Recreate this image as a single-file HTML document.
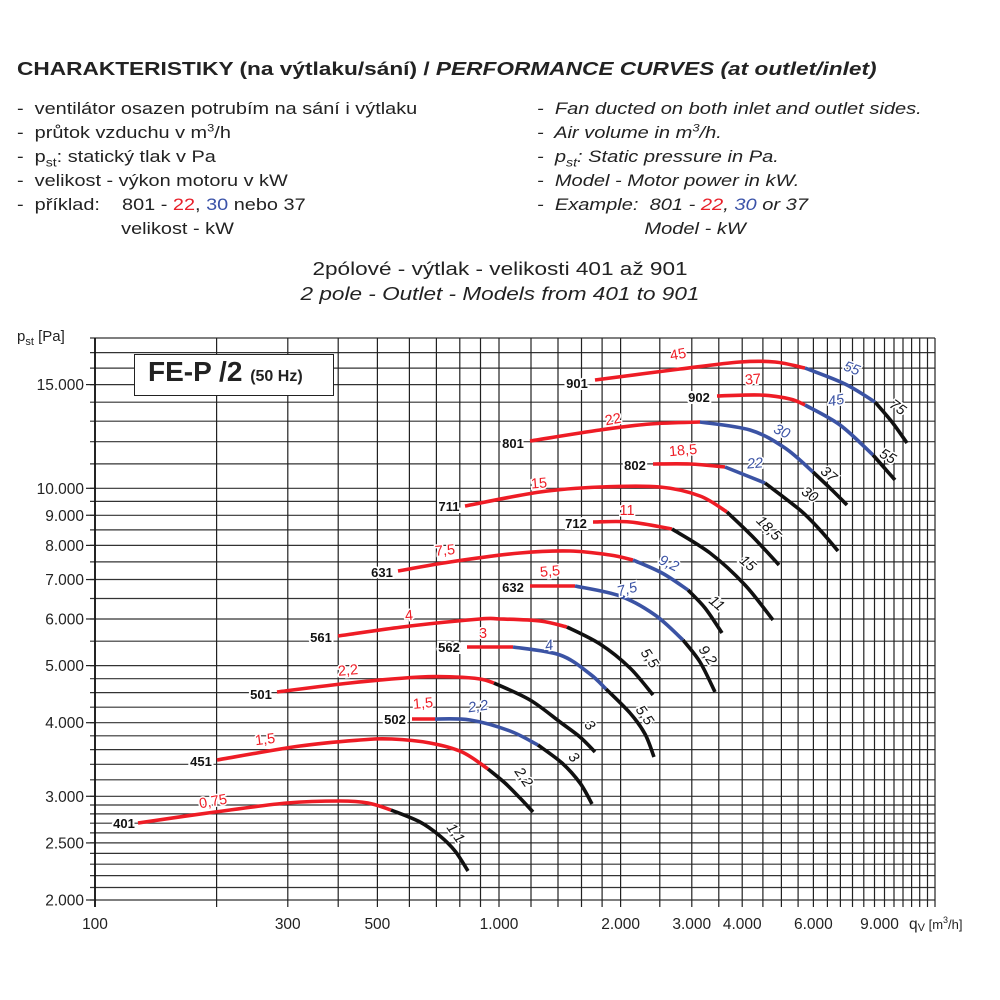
<!DOCTYPE html>
<html><head><meta charset="utf-8">
<style>
html,body{margin:0;padding:0;background:#fff;}
body{width:1000px;height:1000px;position:relative;overflow:hidden;font-family:"Liberation Sans",Arial,sans-serif;color:#222;}
.t{position:absolute;white-space:nowrap;}
</style></head><body>
<div class="t" style="left:17px;top:58px;font-size:18.5px;font-weight:bold;transform:scaleX(1.225);transform-origin:0 0;">CHARAKTERISTIKY (na výtlaku/sání) / <i>PERFORMANCE CURVES (at outlet/inlet)</i></div>
<div class="t" style="left:17px;top:97px;font-size:17px;line-height:24px;transform:scaleX(1.17);transform-origin:0 0;">
-&nbsp; ventilátor osazen potrubím na sání i výtlaku<br>
-&nbsp; průtok vzduchu v m<sup style="font-size:11px;line-height:0">3</sup>/h<br>
-&nbsp; p<sub style="font-size:12px;line-height:0">st</sub>: statický tlak v Pa<br>
-&nbsp; velikost - výkon motoru v kW<br>
-&nbsp; příklad:&nbsp;&nbsp;&nbsp; 801 - <span style="color:#e8202a">22</span>, <span style="color:#3a52a8">30</span> nebo 37<br>
<span style="padding-left:89px">velikost - kW</span></div>
<div class="t" style="left:537px;top:97px;font-size:17px;line-height:24px;font-style:italic;transform:scaleX(1.18);transform-origin:0 0;">
-&nbsp; Fan ducted on both inlet and outlet sides.<br>
-&nbsp; Air volume in m<sup style="font-size:11px;line-height:0">3</sup>/h.<br>
-&nbsp; p<sub style="font-size:12px;line-height:0">st</sub>: Static pressure in Pa.<br>
-&nbsp; Model - Motor power in kW.<br>
-&nbsp; Example:&nbsp; 801 - <span style="color:#e8202a">22</span>, <span style="color:#3a52a8">30</span> or 37<br>
<span style="padding-left:91px">Model - kW</span></div>
<div class="t" style="left:0;width:1000px;text-align:center;top:256px;font-size:18.5px;line-height:25px;transform:scaleX(1.22);transform-origin:500px 0;">2pólové - výtlak - velikosti 401 až 901<br><i>2 pole - Outlet - Models from 401 to 901</i></div>
<div class="t" style="left:17px;top:328px;font-size:15px;">p<sub style="font-size:11px">st</sub> [Pa]</div>
<svg id="s" width="1000" height="1000" style="position:absolute;left:0;top:0" xmlns="http://www.w3.org/2000/svg"></svg>
<div class="t" style="left:134px;top:354px;width:198px;height:40px;border:1.5px solid #222;background:#fff;"></div>
<div class="t" style="left:148px;top:356px;font-size:28px;font-weight:bold;">FE-P /2 <span style="font-size:16px;">(50 Hz)</span></div>
<script>
(function(){
var s=document.getElementById('s');var NS='http://www.w3.org/2000/svg';
function X(q){return 95+404*Math.log10(q/100);}
function Y(p){return 900-589*Math.log10(p/2000);}
function el(n,a,t){var e=document.createElementNS(NS,n);for(var k in a)e.setAttribute(k,a[k]);if(t!==undefined)e.textContent=t;s.appendChild(e);return e;}
var xs=[];for(var q=100;q<=1000;q+=100)xs.push(q);for(q=1200;q<2000;q+=200)xs.push(q);for(q=2000;q<=12000;q+=500)xs.push(q);
var ys=[];for(var p=2000;p<3000;p+=100)ys.push(p);for(p=3000;p<4000;p+=200)ys.push(p);for(p=4000;p<5000;p+=250)ys.push(p);for(p=5000;p<10000;p+=500)ys.push(p);for(p=10000;p<=18000;p+=1000)ys.push(p);
var ytop=Y(18000),right=X(12000);
ys.forEach(function(p){var y=Y(p).toFixed(1);el('line',{x1:90,x2:right,y1:y,y2:y,stroke:'#333','stroke-width':1.2});});
xs.forEach(function(q){var x=X(q).toFixed(1);el('line',{x1:x,x2:x,y1:ytop,y2:907,stroke:'#222','stroke-width':1.2});});
el('line',{x1:95,x2:95,y1:ytop,y2:907,stroke:'#111','stroke-width':1.8});
[[2000,'2.000'],[2500,'2.500'],[3000,'3.000'],[4000,'4.000'],[5000,'5.000'],[6000,'6.000'],[7000,'7.000'],[8000,'8.000'],[9000,'9.000'],[10000,'10.000'],[15000,'15.000']].forEach(function(a){var y=Y(a[0]);el('line',{x1:86,x2:95,y1:y,y2:y,stroke:'#222','stroke-width':1.2});el('text',{x:84,y:y+5.5,'text-anchor':'end','font-size':15.5,fill:'#222'},a[1]);});
[[100,'100'],[300,'300'],[500,'500'],[1000,'1.000'],[2000,'2.000'],[3000,'3.000'],[4000,'4.000'],[6000,'6.000'],[9000,'9.000']].forEach(function(a){el('text',{x:X(a[0])-(a[0]==9000?5:0),y:929,'text-anchor':'middle','font-size':15.5,fill:'#222'},a[1]);});
var qt=el('text',{x:909,y:929,'font-size':15.5,fill:'#222'});qt.innerHTML='q<tspan font-size="11" dy="2">V</tspan><tspan font-size="13" dy="-2"> [m</tspan><tspan font-size="9" dy="-6">3</tspan><tspan font-size="13" dy="6">/h]</tspan>';
function path(pts){var d='M'+pts[0][0]+','+pts[0][1];for(var i=0;i<pts.length-1;i++){var p0=pts[i-1]||pts[i],p1=pts[i],p2=pts[i+1],p3=pts[i+2]||p2;var c1=[p1[0]+(p2[0]-p0[0])/6,p1[1]+(p2[1]-p0[1])/6],c2=[p2[0]-(p3[0]-p1[0])/6,p2[1]-(p3[1]-p1[1])/6];d+=' C'+c1[0].toFixed(1)+','+c1[1].toFixed(1)+' '+c2[0].toFixed(1)+','+c2[1].toFixed(1)+' '+p2[0]+','+p2[1];}return d;}
var R='#ee1c25',B='#3b53a4',K='#111';
var curves=[
[[R,[[138,823],[215,812],[287,803],[340,801],[368,803],[391,810]]],[K,[[391,810],[420,822],[440,836],[455,851],[468,871]]]],
[[R,[[217,760],[300,746],[360,740],[392,739],[430,743],[462,752],[488,769]]],[K,[[488,769],[505,783],[520,798],[533,812]]]],
[[R,[[277,692],[350,683],[420,677],[455,677],[480,679],[494,683]]],[K,[[494,683],[530,700],[560,722],[580,737],[595,752]]]],
[[R,[[412,719],[435,719]]],[B,[[435,719],[470,720],[510,731],[538,745]]],[K,[[538,745],[562,763],[580,783],[592,804]]]],
[[R,[[338,636],[410,626],[480,619],[500,619],[540,621],[567,627]]],[K,[[567,627],[600,644],[630,668],[653,695]]]],
[[R,[[467,647],[513,647]]],[B,[[513,647],[560,655],[590,674],[606,689]]],[K,[[606,689],[630,713],[645,734],[654,757]]]],
[[R,[[398,571],[450,562],[520,553],[570,551],[610,555],[633,560]]],[B,[[633,560],[662,573],[688,590]]],[K,[[688,590],[705,608],[722,633]]]],
[[R,[[530,586],[575,586]]],[B,[[575,586],[620,596],[655,615],[683,640]]],[K,[[683,640],[700,662],[715,692]]]],
[[R,[[465,506],[540,492],[600,487],[660,487],[700,496],[727,512]]],[K,[[727,512],[752,536],[779,565]]]],
[[R,[[593,522],[630,522],[672,529]]],[K,[[672,529],[710,553],[745,585],[773,620]]]],
[[R,[[530,441],[600,430],[650,424],[700,422]]],[B,[[700,422],[750,430],[785,448],[813,472]]],[K,[[813,472],[832,490],[847,505]]]],
[[R,[[653,464],[690,464],[725,467]]],[B,[[725,467],[765,483]]],[K,[[765,483],[800,510],[820,530],[838,551]]]],
[[R,[[717,396],[760,395],[790,399],[805,405]]],[B,[[805,405],[840,425],[873,455]]],[K,[[873,455],[895,480]]]],
[[R,[[595,380],[680,369],[740,362],[775,362],[805,368]]],[B,[[805,368],[845,384],[875,402]]],[K,[[875,402],[892,422],[907,443]]]]
];
curves.forEach(function(c){c.forEach(function(sg){el('path',{d:path(sg[1]),fill:'none',stroke:sg[0],'stroke-width':3.6,'stroke-linecap':'butt'});});});
[['401',124,828],['451',201,766],['501',261,699],['502',395,724],['561',321,642],['562',449,652],['631',382,577],['632',513,592],['711',449,511],['712',576,528],['801',513,448],['802',635,470],['902',699,402],['901',577,388]].forEach(function(a){el('text',{x:a[1],y:a[2],'text-anchor':'middle','font-size':13,'font-weight':'bold',fill:'#111',stroke:'#fff','stroke-width':4,'paint-order':'stroke'},a[0]);});
var L=[['0,75',R,213,806,-10],['1,1',K,456,838,55],['1,5',R,265,744,-7],['2,2',K,524,782,55],['2,2',R,348,675,-5],['3',K,590,730,50],['1,5',R,423,708,-5],['2,2',B,478,711,-8],['3',K,574,762,50],['4',R,409,620,-5],['5,5',K,650,663,55],['3',R,483,638,0],['4',B,549,650,-10],['5,5',K,645,720,55],['7,5',R,445,555,-5],['9,2',B,669,568,25],['11',K,717,608,40],['5,5',R,550,576,-5],['7,5',B,627,594,-15],['9,2',K,708,660,55],['15',R,539,488,-5],['18,5',K,769,533,45],['11',R,627,515,0],['15',K,748,568,40],['22',R,613,424,-10],['30',B,782,436,25],['37',K,829,479,40],['18,5',R,683,455,-5],['22',B,755,468,-5],['30',K,810,499,35],['37',R,753,384,-5],['45',B,836,405,-10],['55',K,888,461,30],['45',R,678,359,-10],['55',B,852,373,20],['75',K,898,412,35]];
L.forEach(function(a){el('text',{x:a[2],y:a[3],'text-anchor':'middle','font-size':14.5,fill:a[1],transform:'rotate('+a[4]+' '+a[2]+' '+(a[3]-5)+')',stroke:'#fff','stroke-width':3,'paint-order':'stroke','font-style':a[1]==R?'normal':'italic'},a[0]);});
})();
</script>
</body></html>
